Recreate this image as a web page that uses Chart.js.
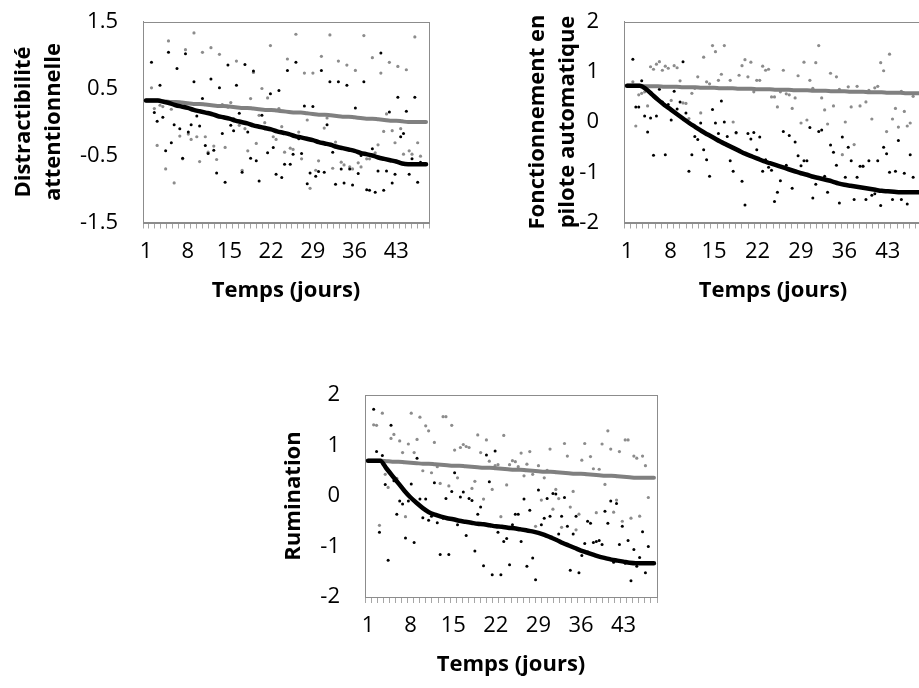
<!DOCTYPE html>
<html>
<head>
<meta charset="utf-8">
<script src="https://cdn.jsdelivr.net/npm/chart.js@4.4.1/dist/chart.umd.min.js"></script>
<style>
	body { margin: 0; background: #fff; overflow: hidden; width: 919px; height: 688px; position: relative; }
	.panel { position: absolute; }
</style>
</head>
<body>
<div class="panel" style="left:0px;top:0px"><canvas id="chartDistract" width="450" height="320"></canvas></div>
<div class="panel" style="left:500px;top:0px"><canvas id="chartPilote" width="440" height="320"></canvas></div>
<div class="panel" style="left:250px;top:374px"><canvas id="chartRumination" width="430" height="320"></canvas></div>
<script>
var days = ['1','2','3','4','5','6','7','8','9','10','11','12','13','14','15','16','17','18','19','20','21','22','23','24',
	'25','26','27','28','29','30','31','32','33','34','35','36','37','38','39','40','41','42','43','44','45','46','47','48'];

var xTitle = 'Temps (jours)';

// Distractibilité attentionnelle
var distractTicks = [-1.5, -0.5, 0.5, 1.5];
var distractBlackLine = [0.32,0.32,0.32,0.30,0.28,0.25,0.23,0.21,0.18,0.16,0.14,0.12,0.09,0.07,0.05,0.02,0.00,-0.02,-0.05,-0.07,-0.09,-0.11,-0.14,-0.16,
	-0.18,-0.21,-0.23,-0.25,-0.27,-0.30,-0.32,-0.34,-0.37,-0.39,-0.41,-0.43,-0.46,-0.48,-0.50,-0.53,-0.55,-0.57,-0.59,-0.62,-0.63,-0.63,-0.63,-0.63];
var distractGrayLine = [0.32,0.32,0.32,0.31,0.30,0.30,0.29,0.28,0.27,0.27,0.26,0.25,0.24,0.24,0.23,0.22,0.21,0.21,0.20,0.19,0.18,0.18,0.17,0.16,
	0.15,0.14,0.14,0.13,0.12,0.11,0.11,0.10,0.09,0.08,0.08,0.07,0.06,0.05,0.05,0.04,0.03,0.02,0.02,0.01,0.00,0.00,0.00,0.00];
var distractBlackDots = [0.89,0.14,0.01,0.55,0.07,-0.43,1.04,-0.31,-0.04,0.80,-0.10,-0.54,1.02,-0.15,-0.04,0.60,0.09,-0.06,0.35,-0.35,
	-0.47,0.64,-0.42,-0.76,0.51,-0.17,-0.90,0.85,-0.05,-0.13,0.55,0.13,-0.75,0.86,-0.15,-0.54,0.76,-0.58,-0.88,0.10,
	-0.10,-0.46,0.42,-0.38,-0.78,0.47,-0.83,-0.63,0.77,-0.63,-0.48,0.89,-0.25,-0.47,0.24,-0.92,-0.76,0.23,-0.81,-0.74,
	0.77,-0.75,-0.04,0.60,-0.45,-0.93,0.60,-0.70,-0.91,0.55,-0.70,-0.94,0.21,-0.77,-0.50,0.60,-1.01,-1.02,-0.40,-1.05,
	-0.73,1.03,-1.02,-0.73,0.15,-0.91,-0.78,0.37,-0.22,-0.17,0.16,-0.78,-0.55,0.37,-0.90,-0.60];
var distractGrayDots = [0.51,0.20,-0.35,0.25,0.23,-0.70,1.21,0.19,-0.91,0.28,-0.21,-0.55,1.08,-0.18,-0.26,1.33,-0.22,-0.59,1.04,-0.22,
	-0.45,1.11,-0.36,-0.56,1.01,0.26,-0.38,0.22,0.29,0.05,0.91,-0.05,-0.72,-0.10,-0.43,0.35,0.74,-0.32,0.10,0.50,
	-0.01,0.36,1.14,-0.22,-0.26,0.20,-0.07,-0.45,0.94,-0.39,-0.41,1.31,-0.15,-0.55,0.73,0.03,-0.99,0.73,-0.72,-0.58,
	0.98,-0.09,0.06,1.30,-0.69,-0.30,0.91,-0.60,-0.64,0.85,-0.67,-0.70,0.77,-0.61,-0.67,1.29,-0.55,-0.55,0.96,-0.46,
	-0.34,0.73,-0.14,0.12,0.89,-0.13,-0.31,0.83,-0.10,-0.48,0.78,-0.43,-0.48,1.27,-0.31,-0.51];

// Fonctionnement en pilote automatique
var piloteTicks = [-2, -1, 0, 1, 2];
var piloteBlackLine = [0.72,0.72,0.72,0.66,0.55,0.44,0.34,0.25,0.16,0.07,-0.02,-0.10,-0.18,-0.25,-0.32,-0.39,-0.45,-0.51,-0.57,-0.63,-0.68,-0.73,-0.78,-0.82,
	-0.86,-0.90,-0.94,-0.98,-1.02,-1.05,-1.09,-1.12,-1.15,-1.18,-1.22,-1.25,-1.27,-1.29,-1.31,-1.33,-1.35,-1.37,-1.38,-1.39,-1.40,-1.40,-1.40,-1.40];
var piloteGrayLine = [0.72,0.72,0.72,0.71,0.71,0.71,0.70,0.70,0.70,0.69,0.69,0.69,0.68,0.68,0.68,0.67,0.67,0.67,0.66,0.66,0.66,0.65,0.65,0.65,
	0.64,0.64,0.64,0.63,0.63,0.63,0.62,0.62,0.62,0.61,0.61,0.61,0.60,0.60,0.60,0.59,0.59,0.59,0.58,0.58,0.58,0.57,0.57,0.57];
var piloteBlackDots = [1.25,0.30,0.30,0.82,0.12,-0.20,0.08,-0.66,0.12,0.65,0.40,-0.65,0.35,0.04,0.61,0.26,0.40,1.20,0.18,-0.98,
	-0.65,-0.29,-0.35,-0.02,-0.55,-0.75,-1.08,0.25,-0.02,-0.23,0.42,0.00,-0.29,-0.77,-0.98,-0.21,-0.57,-1.18,-1.65,-0.23,
	-0.34,-0.21,-0.55,-0.30,-0.98,-0.75,-0.90,-0.96,-1.58,-1.40,-1.17,-0.19,-0.86,-0.27,-1.32,-0.40,-0.67,-0.87,-0.77,-0.77,
	-0.11,-1.51,-1.24,-0.19,-0.16,-1.08,-1.40,-0.46,-0.60,-0.86,-1.61,-0.30,-1.10,-0.50,-0.77,-1.54,-1.10,-0.88,-0.88,-1.54,
	-0.77,-1.46,-1.43,-0.77,-1.66,-0.50,-0.63,-1.00,-1.54,-0.98,-0.37,-1.54,-1.02,-1.63,-0.65,-1.10];
var piloteGrayDots = [0.80,-0.08,0.54,0.57,0.60,0.32,1.10,1.05,1.15,1.20,1.03,1.11,1.07,0.43,1.12,1.08,0.82,0.38,0.37,0.07,
	0.57,0.67,0.90,0.18,1.29,0.80,0.76,1.52,1.40,0.83,0.95,1.52,0.67,0.83,0.00,-0.22,0.93,1.12,1.24,0.90,
	1.19,0.60,0.83,0.83,1.11,1.03,1.05,0.50,0.50,0.30,0.60,1.03,0.56,0.54,0.27,0.48,0.92,-0.02,1.19,0.04,
	0.83,0.67,1.18,1.52,0.48,0.24,-0.04,0.97,0.32,0.90,0.65,-0.65,0.00,0.70,0.30,-0.45,0.71,0.32,-0.88,0.40,
	0.63,0.06,0.68,0.71,1.18,1.02,-0.19,1.35,0.06,0.27,-0.10,0.61,0.21,-0.08,-0.02,0.51];

// Rumination
var rumTicks = [-2, -1, 0, 1, 2];
var rumBlackLine = [0.70,0.70,0.70,0.55,0.40,0.25,0.10,-0.03,-0.14,-0.24,-0.32,-0.37,-0.41,-0.44,-0.46,-0.49,-0.51,-0.53,-0.55,-0.56,-0.58,-0.60,-0.61,-0.63,
	-0.64,-0.66,-0.68,-0.70,-0.73,-0.77,-0.82,-0.87,-0.93,-0.98,-1.03,-1.08,-1.12,-1.16,-1.20,-1.23,-1.26,-1.28,-1.30,-1.32,-1.33,-1.33,-1.33,-1.33];
var rumGrayLine = [0.70,0.70,0.70,0.69,0.68,0.68,0.67,0.66,0.65,0.64,0.64,0.63,0.62,0.61,0.60,0.60,0.59,0.58,0.57,0.56,0.56,0.55,0.54,0.53,
	0.52,0.52,0.51,0.50,0.49,0.48,0.48,0.47,0.46,0.45,0.44,0.44,0.43,0.42,0.41,0.40,0.40,0.39,0.38,0.37,0.36,0.36,0.36,0.36];
var rumBlackDots = [1.72,0.88,-0.72,0.80,0.23,-1.27,1.40,0.30,-0.36,-0.10,-0.16,-0.83,-0.10,0.24,-0.92,0.75,-0.06,-0.43,-0.06,-0.48,
	-0.40,0.26,-0.53,-1.16,-0.44,-0.05,-1.16,0.09,0.46,-0.57,-0.02,0.08,-0.78,-0.05,-0.09,-1.09,-0.36,-0.22,-1.38,0.81,
	0.28,-1.56,0.89,-0.72,-1.56,-0.90,-0.84,-1.36,-0.57,-0.36,-0.36,-0.90,-0.06,-1.39,-0.28,-1.23,-1.66,0.12,-0.57,-0.44,
	-0.05,-0.40,0.05,0.04,-0.75,-0.40,-0.03,-0.60,-1.47,-0.75,-0.40,-1.52,-1.18,-0.94,-0.50,-0.54,-0.92,-0.90,-0.88,-0.96,
	-0.30,-0.54,-0.10,-1.31,-0.15,-0.96,-0.60,-1.33,-0.88,-1.68,-1.06,-1.39,-1.22,-0.71,-1.52,-1.00];
var rumGrayDots = [1.41,1.40,-0.58,1.64,0.43,0.17,1.14,1.22,0.35,1.09,0.86,-0.41,1.03,1.64,0.86,1.12,1.56,0.50,1.39,1.29,
	0.46,1.06,0.58,0.25,1.57,1.57,0.20,1.40,0.91,0.36,0.96,1.02,0.98,0.96,0.15,0.29,1.21,0.86,-0.06,1.11,
	0.69,0.13,0.60,0.62,-0.41,1.20,0.22,0.62,0.70,0.68,0.58,0.85,0.40,0.63,0.88,0.43,-0.60,0.60,-0.08,0.36,
	0.51,0.93,-0.26,0.13,-0.05,-0.62,1.04,0.79,-0.22,0.09,-0.67,-0.36,0.71,1.04,-1.10,0.78,0.54,-0.33,0.53,1.03,
	0.23,1.29,0.93,-0.32,-0.08,0.88,-0.50,1.11,1.11,-0.44,0.79,0.75,-0.40,0.79,0.60,-0.03];

var fontFamily = '"Open Sans", "Noto Sans", sans-serif';

const plotBorder = {
	id: 'plotBorder',
	beforeDatasetsDraw(chart) {
		const ctx = chart.ctx, a = chart.chartArea;
		ctx.save();
		ctx.strokeStyle = '#8c8c8c';
		ctx.lineWidth = 1;
		ctx.strokeRect(Math.round(a.left) + 0.5, Math.round(a.top) + 0.5, Math.round(a.right - a.left), Math.round(a.bottom - a.top));
		ctx.restore();
	}
};

function toPoints(values){
	return values.map(function(v, k){ return {x: k, y: v}; });
}

function drawPanel(canvasId, p){
	const data = {
		labels: days,
		datasets: [{
			data: p.blackLine,
			borderColor: '#000000',
			borderWidth: 4.5,
			borderCapStyle: 'round',
			pointRadius: 0,
			cubicInterpolationMode: 'monotone',
			xAxisID: 'x'
		}, {
			data: p.grayLine,
			borderColor: '#808080',
			borderWidth: 4,
			borderCapStyle: 'round',
			pointRadius: 0,
			cubicInterpolationMode: 'monotone',
			xAxisID: 'x'
		}, {
			data: toPoints(p.blackDots),
			showLine: false,
			pointRadius: 1.5,
			pointBorderWidth: 0,
			pointBackgroundColor: '#000000',
			xAxisID: 'xd'
		}, {
			data: toPoints(p.grayDots),
			showLine: false,
			pointRadius: 1.6,
			pointBorderWidth: 0,
			pointBackgroundColor: '#8c8c8c',
			xAxisID: 'xd'
		}]
	};

	const options = {
		responsive: false,
		animation: false,
		devicePixelRatio: 1,
		layout: { padding: { top: p.padTop, right: p.padRight, bottom: p.padBottom, left: 0 } },
		plugins: { legend: { display: false }, tooltip: { enabled: false } },
		scales: {
			x: {
				type: 'category',
				offset: true,
				grid: { offset: true, drawOnChartArea: false, tickLength: 6, color: '#a6a6a6' },
				border: { color: '#8c8c8c' },
				ticks: {
					autoSkip: false, maxRotation: 0, minRotation: 0, padding: 10, color: '#000',
					font: { family: fontFamily, size: 22 },
					callback: function(value, index){ return index % 7 === 0 ? days[index] : ''; }
				},
				title: {
					display: true, text: xTitle, color: '#000',
					font: { family: fontFamily, size: 22, weight: 'bold', lineHeight: 1.2 },
					padding: { top: 0, bottom: p.xTitlePad }
				},
				afterFit: function(scale){ scale.height = 90; }
			},
			xd: { type: 'linear', display: false, min: -3, max: 98 },
			y: {
				min: p.ticks[0],
				max: p.ticks[p.ticks.length - 1],
				afterBuildTicks: function(scale){ scale.ticks = p.ticks.map(function(v){ return {value: v}; }); },
				// invisible tick marks keep the labels away from the plot without adding vertical padding
				grid: { drawOnChartArea: false, drawTicks: true, tickLength: 25, color: 'rgba(0,0,0,0)' },
				border: { color: '#8c8c8c' },
				ticks: {
					padding: 0, color: '#000',
					font: { family: fontFamily, size: 22 },
					callback: function(v){ return String(v); }
				},
				title: {
					display: true, text: p.yTitle, color: '#000',
					font: { family: fontFamily, size: 22, weight: 'bold', lineHeight: 1.36 },
					padding: { top: p.yTitlePad, bottom: 0 }
				},
				afterFit: function(scale){ scale.width = p.yWidth; }
			}
		}
	};

	return new Chart(document.getElementById(canvasId), {
		type: 'line',
		data: data,
		options: options,
		plugins: [plotBorder]
	});
}

drawPanel('chartDistract', {
	blackLine: distractBlackLine, grayLine: distractGrayLine,
	blackDots: distractBlackDots, grayDots: distractGrayDots,
	ticks: distractTicks, yTitle: ['Distractibilité', 'attentionnelle'],
	yWidth: 143, yTitlePad: 9, padTop: 21.5, padRight: 21, padBottom: 7.5, xTitlePad: 9
});
drawPanel('chartPilote', {
	blackLine: piloteBlackLine, grayLine: piloteGrayLine,
	blackDots: piloteBlackDots, grayDots: piloteGrayDots,
	ticks: piloteTicks, yTitle: ['Fonctionnement en', 'pilote automatique'],
	yWidth: 124, yTitlePad: 23, padTop: 21.5, padRight: 18, padBottom: 7.5, xTitlePad: 9
});
drawPanel('chartRumination', {
	blackLine: rumBlackLine, grayLine: rumGrayLine,
	blackDots: rumBlackDots, grayDots: rumGrayDots,
	ticks: rumTicks, yTitle: 'Rumination',
	yWidth: 115, yTitlePad: 29, padTop: 21, padRight: 23, padBottom: 7, xTitlePad: 9
});
</script>
</body>
</html>
